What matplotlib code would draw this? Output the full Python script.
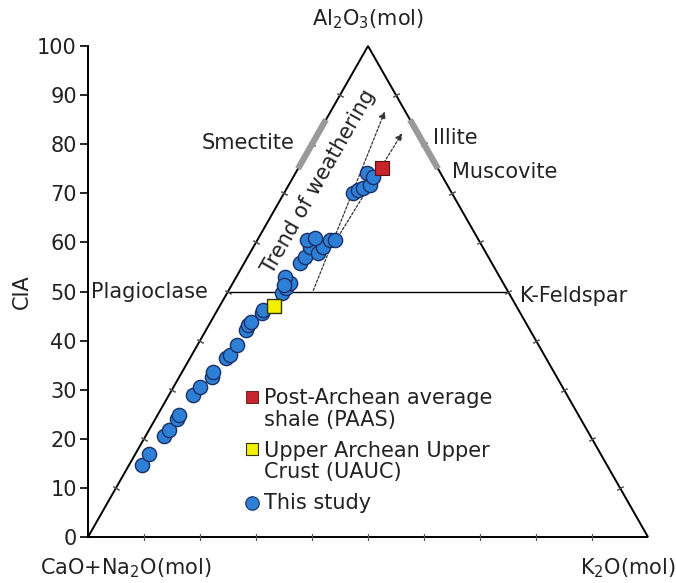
import numpy as np
import matplotlib
matplotlib.use("Agg")
import matplotlib.pyplot as plt

plt.rcParams['font.family'] = ['DejaVu Sans']
plt.rcParams['mathtext.default'] = 'regular'

# sample compositions (CIA = Al2O3 %, K2O %)
cia = [14.7, 16.9, 20.6, 21.8, 24.0, 24.8, 28.9, 30.6, 32.6, 33.6, 36.5, 37.1,
       39.1, 42.2, 43.2, 43.8, 45.6, 46.2, 49.7, 50.7, 51.7, 53.0, 51.3, 55.8,
       57.0, 59.1, 57.8, 59.1, 60.5, 60.9, 60.5, 60.5, 70.1, 70.7, 71.1, 71.7,
       74.1, 73.3]
k2o = [2.3, 2.4, 3.3, 3.6, 3.9, 3.9, 4.3, 4.7, 5.8, 5.5, 6.4, 6.8,
       7.0, 7.1, 7.0, 7.2, 8.3, 8.2, 9.8, 10.0, 10.2, 8.7, 9.3, 10.0,
       10.3, 10.1, 12.2, 12.4, 8.9, 10.1, 13.0, 13.9, 12.3, 12.9, 13.6, 14.5,
       12.8, 14.3]
paas_cia, paas_k = 75.2, 14.9
uauc_cia, uauc_k = 47.0, 9.7

# weathering trend arrows (start, end) in CIA / K2O terms
trend_arrows = [((49.7, 15.2), (87.2, 9.6)), ((59.1, 14.0), (82.7, 15.0))]
edge_ticks = [10, 20, 30, 40, 50, 60, 70, 80, 90]


def to_xy(a, k):
    a = np.asarray(a, dtype=float)
    k = np.asarray(k, dtype=float)
    return k + a / 2.0, a


fig = plt.figure(figsize=(6.76, 5.83), dpi=100)
ax = fig.add_axes([88 / 676, 46 / 583, 560 / 676, 491 / 583])
ax.set_xlim(0, 100)
ax.set_ylim(0, 100)

# triangle outline
ax.plot([0, 50, 100, 0], [0, 100, 0, 0], color='black', lw=1.4, clip_on=False,
        solid_joinstyle='miter', zorder=2)
ax.plot([25, 75], [50, 50], color='black', lw=1.0, zorder=2)

# small ticks on the triangle edges
tk = np.array(edge_ticks, dtype=float)
ax.plot(tk, np.zeros_like(tk), ls='none', marker=(2, 2, 0), ms=5, mew=0.8,
        color='#555555', clip_on=False)
ax.plot(tk / 2, tk, ls='none', marker=(2, 2, 60), ms=5, mew=0.8, color='#555555')
ax.plot(100 - tk / 2, tk, ls='none', marker=(2, 2, -60), ms=5, mew=0.8, color='#555555')

# mineral fields (grey bars)
ax.plot([37.5, 42.5], [75, 85], color='#9a9a9a', lw=4.5, solid_capstyle='butt', zorder=3)
ax.plot([62.5, 57.5], [75, 85], color='#9a9a9a', lw=4.5, solid_capstyle='butt', zorder=3)

# trend of weathering arrows
for (a0, k0), (a1, k1) in trend_arrows:
    x0, y0 = to_xy(a0, k0)
    x1, y1 = to_xy(a1, k1)
    ax.annotate('', xy=(x1, y1), xytext=(x0, y0),
                arrowprops=dict(arrowstyle='-|>', color='#333333', lw=0.9,
                                ls=(0, (2, 1.5)), mutation_scale=10))

# data
x, y = to_xy(cia, k2o)
ax.scatter(x, y, s=105, c='#2e7fd6', edgecolors='#1b2f66', linewidths=1.0, zorder=5)
px, py = to_xy(paas_cia, paas_k)
ax.scatter([px], [py], s=110, marker='s', c='#c8242c', edgecolors='#5a1010', linewidths=0.8, zorder=6)
ux, uy = to_xy(uauc_cia, uauc_k)
ax.scatter([ux], [uy], s=110, marker='s', c='#f2f000', edgecolors='#333300', linewidths=1.0, zorder=6)

# axis styling
fs = 15
tc = '#222222'
for side in ['top', 'right', 'bottom']:
    ax.spines[side].set_visible(False)
ax.spines['left'].set_linewidth(1.4)
ax.set_xticks([])
ax.set_yticks(np.arange(0, 101, 10))
ax.tick_params(axis='y', direction='out', length=6, width=1.2, labelsize=fs, pad=2,
               labelcolor=tc)
ax.set_ylabel('CIA', fontsize=fs, labelpad=4, color=tc)

ax.text(50, 103.0, 'Al$_2$O$_3$(mol)', ha='center', va='bottom', fontsize=fs, color=tc)
ax.text(-8.6, -4.0, 'CaO+Na$_2$O(mol)', ha='left', va='top', fontsize=fs, color=tc)
ax.text(105.0, -4.0, 'K$_2$O(mol)', ha='right', va='top', fontsize=fs, color=tc)
ax.text(28.5, 80.2, 'Smectite', ha='center', va='center', fontsize=fs, color=tc)
ax.text(61.6, 81.3, 'Illite', ha='left', va='center', fontsize=fs, color=tc)
ax.text(65.0, 74.3, 'Muscovite', ha='left', va='center', fontsize=fs, color=tc)
ax.text(0.6, 50.0, 'Plagioclase', ha='left', va='center', fontsize=fs, color=tc)
ax.text(77.1, 49.0, 'K-Feldspar', ha='left', va='center', fontsize=fs, color=tc)
ax.text(41.3, 72.3, 'Trend of weathering', ha='center', va='center', fontsize=fs,
        rotation=60.3, rotation_mode='anchor', color=tc)

# legend drawn by hand
lx = (252 - 88) / 560
ax.scatter([lx], [(537 - 397) / 491], transform=ax.transAxes, s=80, marker='s',
           c='#c8242c', edgecolors='#5a1010', linewidths=0.6, zorder=6)
ax.scatter([lx], [(537 - 449) / 491], transform=ax.transAxes, s=80, marker='s',
           c='#f2f000', edgecolors='#333300', linewidths=0.8, zorder=6)
ax.scatter([lx], [(537 - 503) / 491], transform=ax.transAxes, s=95,
           c='#2e7fd6', edgecolors='#1b2f66', linewidths=0.8, zorder=6)
tx = (264 - 88) / 560
ax.text(tx, (537 - 409) / 491, 'Post-Archean average\nshale (PAAS)', transform=ax.transAxes,
        ha='left', va='center', fontsize=fs, linespacing=1.08, color=tc)
ax.text(tx, (537 - 461.5) / 491, 'Upper Archean Upper\nCrust (UAUC)', transform=ax.transAxes,
        ha='left', va='center', fontsize=fs, linespacing=1.08, color=tc)
ax.text(tx, (537 - 503) / 491, 'This study', transform=ax.transAxes,
        ha='left', va='center', fontsize=fs, color=tc)

fig.savefig('out.png', dpi=100)
